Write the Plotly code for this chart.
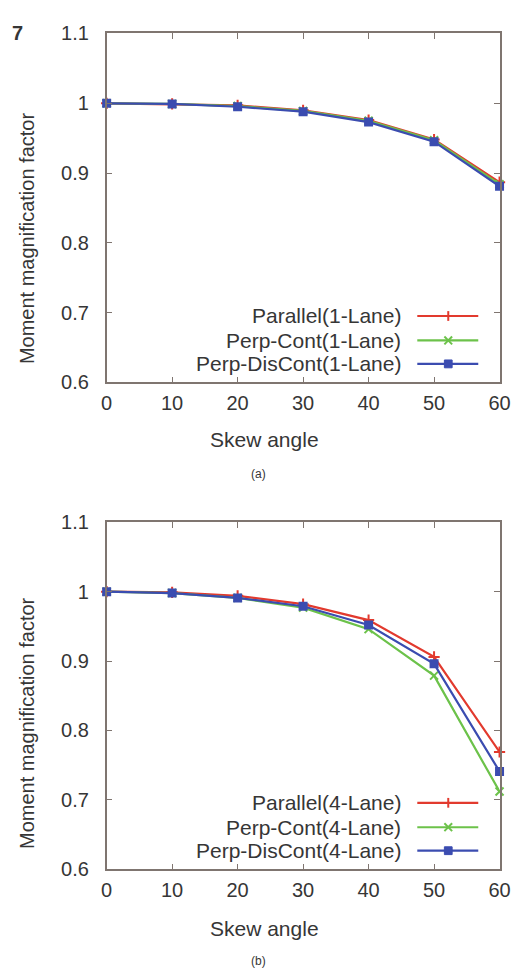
import plotly.graph_objects as go

W, H = 527, 979

skew_angles = [0, 10, 20, 30, 40, 50, 60]

series_1lane_names = ["Parallel(1-Lane)", "Perp-Cont(1-Lane)", "Perp-DisCont(1-Lane)"]
parallel_1lane = [1.000, 0.999, 0.997, 0.990, 0.976, 0.948, 0.887]
perp_cont_1lane = [1.000, 0.999, 0.996, 0.989, 0.975, 0.947, 0.884]
perp_discont_1lane = [1.000, 0.999, 0.995, 0.988, 0.973, 0.945, 0.881]

series_4lane_names = ["Parallel(4-Lane)", "Perp-Cont(4-Lane)", "Perp-DisCont(4-Lane)"]
parallel_4lane = [1.000, 0.999, 0.994, 0.982, 0.959, 0.906, 0.769]
perp_cont_4lane = [1.000, 0.998, 0.991, 0.977, 0.946, 0.879, 0.712]
perp_discont_4lane = [1.000, 0.998, 0.991, 0.979, 0.952, 0.896, 0.741]

x_ticks = [0, 10, 20, 30, 40, 50, 60]
y_ticks = [0.6, 0.7, 0.8, 0.9, 1.0, 1.1]
y_tick_labels = ["0.6", "0.7", "0.8", "0.9", "1", "1.1"]

colors = ["#e23a2e", "#6cc24a", "#3b4cb0"]
symbols = ["cross-thin", "x-thin", "square"]
axis_color = "#7f7570"
text_color = "#363636"
FONT = "Liberation Sans, Arial, sans-serif"


def px_x(p):
    return p / W


def px_y(p):
    return 1 - p / H


fig = go.Figure()

panels = [
    (series_1lane_names, [parallel_1lane, perp_cont_1lane, perp_discont_1lane], "x", "y"),
    (series_4lane_names, [parallel_4lane, perp_cont_4lane, perp_discont_4lane], "x2", "y2"),
]

for names, vals, xa, ya in panels:
    for i, (n, v) in enumerate(zip(names, vals)):
        fig.add_trace(go.Scatter(
            x=skew_angles, y=v, name=n, mode="lines+markers",
            xaxis=xa, yaxis=ya, cliponaxis=False, showlegend=False,
            line=dict(color=colors[i], width=2.2),
            marker=dict(symbol=symbols[i], size=8 if i < 2 else 7, color=colors[i],
                        line=dict(color=colors[i], width=2)),
        ))

xdom = [px_x(104), px_x(510)]
top_dom = [px_y(380), px_y(23)]
bot_dom = [px_y(878), px_y(523)]

axis_common = dict(
    showline=True, linecolor=axis_color, linewidth=1.5, mirror="ticks",
    ticks="inside", ticklen=6, tickwidth=1.2, tickcolor=axis_color,
    showgrid=False, zeroline=False,
    tickfont=dict(family=FONT, size=20, color=text_color),
)

fig.update_layout(
    width=W, height=H, margin=dict(l=0, r=0, t=0, b=0),
    paper_bgcolor="white", plot_bgcolor="white",
    xaxis=dict(domain=xdom, anchor="y", range=[0, 60], tickvals=x_ticks,
               ticklabelstandoff=2, **axis_common),
    yaxis=dict(domain=top_dom, anchor="x", range=[0.6, 1.1], tickvals=y_ticks,
               ticktext=y_tick_labels, ticklabelstandoff=12, **axis_common),
    xaxis2=dict(domain=xdom, anchor="y2", range=[0, 60], tickvals=x_ticks,
                ticklabelstandoff=2, **axis_common),
    yaxis2=dict(domain=bot_dom, anchor="x2", range=[0.6, 1.1], tickvals=y_ticks,
                ticktext=y_tick_labels, ticklabelstandoff=12, **axis_common),
)

annotations = []
shapes = []


def text(x, y, s, size, **kw):
    annotations.append(dict(
        x=px_x(x), y=px_y(y), xref="paper", yref="paper", text=s, showarrow=False,
        font=dict(family=FONT, size=size, color=text_color), **kw))


text(4, 22, "<b>7</b>", 20, xanchor="left", yanchor="middle")
text(267, 438, "Skew angle", 21, xanchor="center", yanchor="middle")
text(267, 939, "Skew angle", 21, xanchor="center", yanchor="middle")
text(261, 474, "(a)", 12, xanchor="center", yanchor="middle")
text(261, 972, "(b)", 12, xanchor="center", yanchor="middle")
text(21, 232, "Moment magnification factor", 20, xanchor="center", yanchor="middle", textangle=-90)
text(21, 728, "Moment magnification factor", 20, xanchor="center", yanchor="middle", textangle=-90)


def legend(rows_y, names):
    for i, (ry, n) in enumerate(zip(rows_y, names)):
        text(410, ry, n, 21, xanchor="right", yanchor="middle")
        c = colors[i]
        shapes.append(dict(type="line", xref="paper", yref="paper",
                           x0=px_x(425), x1=px_x(488), y0=px_y(ry), y1=px_y(ry),
                           line=dict(color=c, width=2.2)))
        mx = 457
        if i == 0:
            shapes.append(dict(type="line", xref="paper", yref="paper",
                               x0=px_x(mx), x1=px_x(mx), y0=px_y(ry - 5), y1=px_y(ry + 5),
                               line=dict(color=c, width=2)))
        elif i == 1:
            for d in (-1, 1):
                shapes.append(dict(type="line", xref="paper", yref="paper",
                                   x0=px_x(mx - 4), x1=px_x(mx + 4),
                                   y0=px_y(ry - 4 * d), y1=px_y(ry + 4 * d),
                                   line=dict(color=c, width=2)))
        else:
            shapes.append(dict(type="rect", xref="paper", yref="paper",
                               x0=px_x(mx - 4), x1=px_x(mx + 4),
                               y0=px_y(ry - 4), y1=px_y(ry + 4),
                               fillcolor=c, line=dict(color=c, width=1)))


legend([312, 337, 361], series_1lane_names)
legend([810, 835, 859], series_4lane_names)

fig.update_layout(annotations=annotations, shapes=shapes)

fig.write_html("out.html")
